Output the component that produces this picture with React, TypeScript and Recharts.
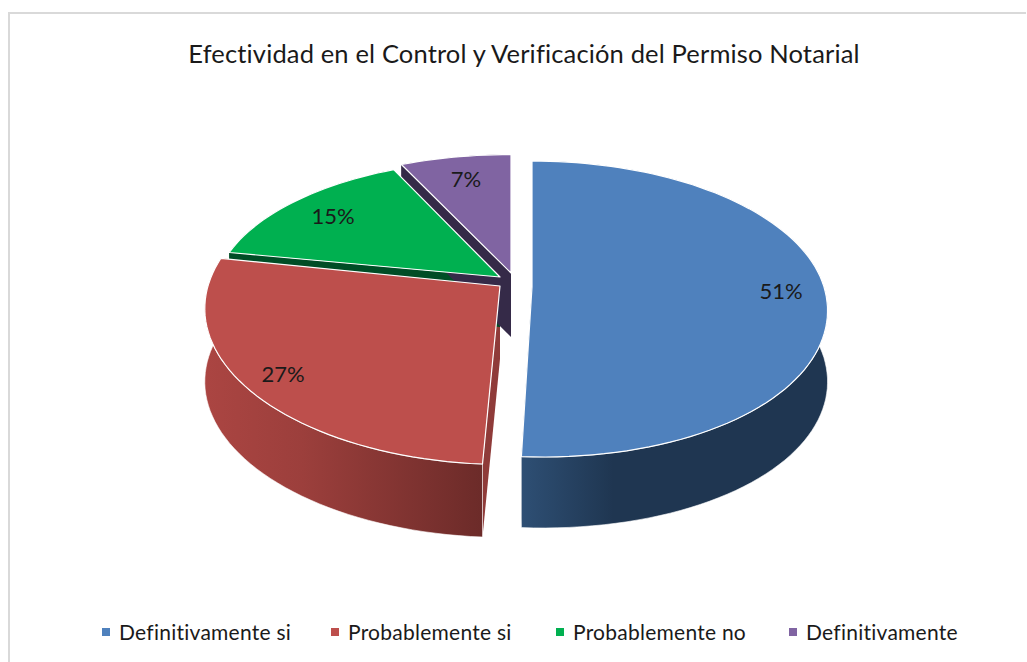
import { Legend, Pie, PieChart } from "recharts";

const categories = ["Definitivamente si", "Probablemente si", "Probablemente no", "Definitivamente"];
const percentages = [51, 27, 15, 7];

const topColors = ["#4f81bd", "#bd4f4c", "#00b050", "#8064a2"];
const faceColors = ["#1f3550", "#8f3b39", "#004d26", "#352a48"];
const explodeX = [22, -10, -10, 1];
const explodeY = [3, 2, -7, -11];
// the slices of the reference are not quite the same size on screen
const sliceScaleX = [1, 1, 0.97, 1];
const sliceScaleY = [1, 1.05, 0.93, 0.94];
const sliceLean = [11, 4, 0, 0]; // near side of the disc leans to the right
const sliceDepth = [71, 73, 50, 64];
const wallEdge = [0.6, 0.6, 0, 0];
const labelRadius = [0.85, 0.87, 0.8, 0.79];

const CX = 510;
const CY = 284;
const RADIUS = 292;
const FLATTEN = 0.4955; // vertical squash of the disc
const TILT = 0.1487; // perspective, far side of the disc looks smaller

const data = categories.map((name, i) => ({ name, value: percentages[i] }));

// disc coordinates (fraction of radius) to screen position
const project = (i: number, angle: number, r: number) => {
  const rad = (angle * Math.PI) / 180;
  const u = r * Math.cos(rad);
  const v = r * Math.sin(rad);
  const w = 1 + TILT * v;
  const lean = v < 0 ? sliceLean[i] * v * v : 0;
  return [
    CX + explodeX[i] + (RADIUS * sliceScaleX[i] * u) / w + lean,
    CY + explodeY[i] - (RADIUS * FLATTEN * sliceScaleY[i] * v) / w,
  ];
};

const rim = (i: number, start: number, end: number) => {
  const steps = Math.max(2, Math.ceil(Math.abs(end - start) / 2));
  const points: number[][] = [];
  for (let s = 0; s <= steps; s++) {
    points.push(project(i, start + ((end - start) * s) / steps, 1));
  }
  return points;
};

const toPath = (points: number[][]) =>
  "M" + points.map((p) => `${p[0].toFixed(1)},${p[1].toFixed(1)}`).join("L") + "Z";

const drop = (points: number[][], depth: number) => points.map((p) => [p[0], p[1] + depth]);

const WallShape = (props: any) => {
  const i = categories.indexOf(props.name);
  const depth = sliceDepth[i];
  const arc = rim(i, props.startAngle, props.endAngle);
  const apex = project(i, 0, 0);
  const first = arc[0];
  const last = arc[arc.length - 1];
  return (
    <g>
      <path d={toPath([apex, first, ...drop([first], depth), ...drop([apex], depth)])} fill={faceColors[i]} />
      <path d={toPath([apex, last, ...drop([last], depth), ...drop([apex], depth)])} fill={faceColors[i]} />
      <path
        d={toPath([...arc, ...drop(arc, depth).reverse()])}
        fill={`url(#wall${i})`}
        stroke="#ffffff"
        strokeOpacity={wallEdge[i]}
        strokeWidth={1}
      />
    </g>
  );
};

const TopShape = (props: any) => {
  const i = categories.indexOf(props.name);
  const arc = rim(i, props.startAngle, props.endAngle);
  return (
    <path
      d={toPath([project(i, 0, 0), ...arc])}
      fill={topColors[i]}
      stroke="#ffffff"
      strokeWidth={1.2}
      strokeLinejoin="round"
    />
  );
};

const renderLabel = (props: any) => {
  const i = categories.indexOf(props.name);
  const [x, y] = project(i, props.midAngle, labelRadius[i]);
  return (
    <text x={x} y={y} textAnchor="middle" dominantBaseline="central" fontSize={22} fill="#1a1a1a">
      {`${percentages[i]}%`}
    </text>
  );
};

const legendLeft = [102, 331, 556, 789];

const renderLegend = () => (
  <div style={{ position: "relative", height: 26, width: 1027 }}>
    {categories.map((name, i) => (
      <div
        key={name}
        style={{
          position: "absolute",
          left: legendLeft[i],
          top: 0,
          display: "flex",
          alignItems: "center",
          whiteSpace: "nowrap",
          fontSize: 21,
          letterSpacing: 0.25,
          color: "#1a1a1a",
        }}
      >
        <span style={{ width: 8, height: 8, background: topColors[i], marginRight: 9 }} />
        {name}
      </div>
    ))}
  </div>
);

export default function App() {
  return (
    <div
      style={{
        position: "absolute",
        left: 0,
        top: 0,
        width: 1027,
        height: 662,
        background: "#ffffff",
        fontFamily: "Lato, 'Open Sans', sans-serif",
      }}
    >
      <div style={{ position: "absolute", left: 8, top: 12, width: 1018, height: 2, background: "#d9d9d9" }} />
      <div style={{ position: "absolute", left: 8, top: 12, width: 2, height: 650, background: "#d9d9d9" }} />
      <PieChart width={1027} height={662} style={{ position: "absolute", left: 0, top: 0 }}>
        <defs>
          <linearGradient id="wall0" x1="0" y1="0" x2="1" y2="0">
            <stop offset="0" stopColor="#2e4f74" />
            <stop offset="0.3" stopColor="#1f3651" />
            <stop offset="1" stopColor="#1f3651" />
          </linearGradient>
          <linearGradient id="wall1" x1="0" y1="0" x2="1" y2="0">
            <stop offset="0" stopColor="#ab4542" />
            <stop offset="0.35" stopColor="#9c3f3c" />
            <stop offset="1" stopColor="#6c2b29" />
          </linearGradient>
          <linearGradient id="wall2" x1="0" y1="0" x2="1" y2="0">
            <stop offset="0" stopColor="#004d26" />
            <stop offset="1" stopColor="#004d26" />
          </linearGradient>
          <linearGradient id="wall3" x1="0" y1="0" x2="1" y2="0">
            <stop offset="0" stopColor="#352a48" />
            <stop offset="1" stopColor="#352a48" />
          </linearGradient>
        </defs>
        <text
          x={524}
          y={53}
          textAnchor="middle"
          dominantBaseline="central"
          fontSize={25.5}
          letterSpacing={0.15}
          fill="#1a1a1a"
        >
          Efectividad en el Control y Verificación del Permiso Notarial
        </text>
        <Pie
          data={data}
          dataKey="value"
          nameKey="name"
          cx={CX}
          cy={CY}
          outerRadius={RADIUS}
          startAngle={90}
          endAngle={-270}
          stroke="none"
          legendType="none"
          shape={WallShape}
          isAnimationActive={false}
        />
        <Pie
          data={data}
          dataKey="value"
          nameKey="name"
          cx={CX}
          cy={CY}
          outerRadius={RADIUS}
          startAngle={90}
          endAngle={-270}
          stroke="none"
          shape={TopShape}
          label={renderLabel}
          labelLine={false}
          isAnimationActive={false}
        />
        <Legend
          content={renderLegend}
          layout="horizontal"
          verticalAlign="bottom"
          wrapperStyle={{ left: 0, bottom: 17, width: 1027 }}
        />
      </PieChart>
    </div>
  );
}
